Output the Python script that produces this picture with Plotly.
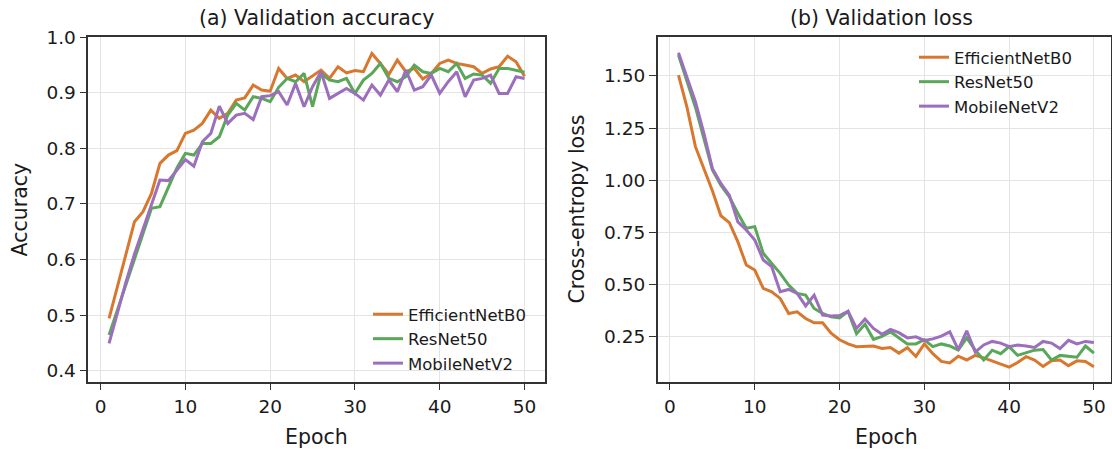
import plotly.graph_objects as go

epochs = list(range(1, 51))
models = ["EfficientNetB0", "ResNet50", "MobileNetV2"]
colors = ["#d8782e", "#5aa75a", "#9c6fbc"]

acc_eff = [0.494, 0.55, 0.61, 0.668, 0.686, 0.719, 0.773, 0.788, 0.796, 0.827,
           0.833, 0.845, 0.869, 0.854, 0.863, 0.887, 0.891, 0.914, 0.905, 0.903,
           0.944, 0.926, 0.932, 0.92, 0.93, 0.941, 0.926, 0.947, 0.936, 0.94,
           0.938, 0.971, 0.953, 0.933, 0.959, 0.938, 0.944, 0.925, 0.935, 0.953,
           0.959, 0.953, 0.95, 0.947, 0.935, 0.943, 0.947, 0.966, 0.956, 0.93]
acc_res = [0.464, 0.51, 0.555, 0.6, 0.645, 0.692, 0.695, 0.73, 0.765, 0.791,
           0.788, 0.809, 0.809, 0.821, 0.86, 0.881, 0.869, 0.893, 0.89, 0.884,
           0.91, 0.926, 0.92, 0.935, 0.875, 0.935, 0.923, 0.92, 0.926, 0.899,
           0.923, 0.935, 0.953, 0.926, 0.92, 0.929, 0.95, 0.938, 0.935, 0.944,
           0.938, 0.953, 0.926, 0.934, 0.932, 0.917, 0.944, 0.944, 0.941, 0.937]
acc_mob = [0.449, 0.505, 0.56, 0.61, 0.655, 0.7, 0.743, 0.742, 0.761, 0.78,
           0.768, 0.812, 0.827, 0.876, 0.845, 0.86, 0.863, 0.852, 0.893, 0.895,
           0.902, 0.878, 0.917, 0.875, 0.911, 0.938, 0.89, 0.899, 0.908, 0.899,
           0.887, 0.914, 0.896, 0.923, 0.902, 0.941, 0.905, 0.911, 0.932, 0.899,
           0.92, 0.938, 0.893, 0.923, 0.926, 0.932, 0.899, 0.899, 0.929, 0.926]

loss_eff = [1.504, 1.35, 1.161, 1.06, 0.95, 0.83, 0.797, 0.706, 0.594, 0.57,
            0.482, 0.466, 0.434, 0.362, 0.37, 0.338, 0.317, 0.317, 0.267, 0.236,
            0.216, 0.203, 0.206, 0.206, 0.194, 0.199, 0.172, 0.198, 0.156, 0.216,
            0.169, 0.132, 0.125, 0.157, 0.139, 0.161, 0.149, 0.135, 0.118, 0.105,
            0.127, 0.155, 0.139, 0.108, 0.135, 0.139, 0.112, 0.135, 0.132, 0.107]
loss_res = [1.60, 1.47, 1.35, 1.2, 1.049, 0.977, 0.921, 0.842, 0.77, 0.778,
            0.65, 0.602, 0.554, 0.498, 0.458, 0.45, 0.386, 0.362, 0.346, 0.34,
            0.372, 0.265, 0.31, 0.238, 0.252, 0.274, 0.245, 0.216, 0.216, 0.236,
            0.203, 0.216, 0.206, 0.186, 0.245, 0.186, 0.139, 0.186, 0.169, 0.203,
            0.161, 0.172, 0.186, 0.189, 0.139, 0.161, 0.155, 0.152, 0.206, 0.172]
loss_mob = [1.611, 1.49, 1.376, 1.225, 1.057, 0.985, 0.929, 0.801, 0.762, 0.714,
            0.618, 0.586, 0.466, 0.477, 0.458, 0.398, 0.45, 0.354, 0.35, 0.352,
            0.372, 0.29, 0.335, 0.29, 0.262, 0.285, 0.27, 0.245, 0.25, 0.233,
            0.24, 0.253, 0.274, 0.189, 0.279, 0.177, 0.211, 0.228, 0.22, 0.203,
            0.211, 0.206, 0.199, 0.228, 0.22, 0.194, 0.233, 0.216, 0.228, 0.223]

acc_ticks = [0.4, 0.5, 0.6, 0.7, 0.8, 0.9, 1.0]
loss_ticks = [0.25, 0.5, 0.75, 1.0, 1.25, 1.5]
epoch_ticks = [0, 10, 20, 30, 40, 50]

W, H = 1112, 450
FONT = "DejaVu Sans"
TXT = "#1a1a1a"

fig = go.Figure()
for name, col, ya in zip(models, colors, [acc_eff, acc_res, acc_mob]):
    fig.add_trace(go.Scatter(x=epochs, y=ya, mode="lines", name=name,
                             line=dict(color=col, width=3),
                             xaxis="x", yaxis="y", legend="legend"))
for name, col, ya in zip(models, colors, [loss_eff, loss_res, loss_mob]):
    fig.add_trace(go.Scatter(x=epochs, y=ya, mode="lines", name=name,
                             line=dict(color=col, width=3),
                             xaxis="x2", yaxis="y2", legend="legend2"))

ybot = (H - 381.7) / H
ytop = (H - 37.3) / H
L1, R1 = 88.3, 545.3
L2, R2 = 657.7, 1111.3

common_axis = dict(showline=True, linecolor="#333333", linewidth=1.5, mirror=True,
                   ticks="outside", ticklen=7, tickwidth=1.3, tickcolor="#333333",
                   showgrid=True, gridcolor="#e4e4e4", gridwidth=1, zeroline=False,
                   automargin=False,
                   tickfont=dict(family=FONT, size=18.5, color=TXT))

fig.update_layout(
    width=W, height=H, margin=dict(l=0, r=0, t=0, b=0, autoexpand=False),
    paper_bgcolor="white", plot_bgcolor="white",
    font=dict(family=FONT, color=TXT),
    xaxis=dict(domain=[L1 / W, R1 / W], range=[-1.45, 52.45], tickvals=epoch_ticks,
               anchor="y", **common_axis),
    yaxis=dict(domain=[ybot, ytop], range=[0.38, 1.0], tickvals=acc_ticks, tickformat=".1f",
               anchor="x", **common_axis),
    xaxis2=dict(domain=[L2 / W, R2 / W], range=[-1.45, 52.05], tickvals=epoch_ticks,
                anchor="y2", **common_axis),
    yaxis2=dict(domain=[ybot, ytop], range=[0.035, 1.685], tickvals=loss_ticks, tickformat=".2f",
                anchor="x2", **common_axis),
    legend=dict(x=368 / W, y=(H - 297) / H, xanchor="left", yanchor="top",
                bgcolor="rgba(255,255,255,0)", font=dict(family=FONT, size=16.5, color=TXT),
                itemwidth=30),
    legend2=dict(x=914 / W, y=(H - 40) / H, xanchor="left", yanchor="top",
                 bgcolor="rgba(255,255,255,0)", font=dict(family=FONT, size=16.5, color=TXT),
                 itemwidth=30),
)

def label(text, x, y, angle=0):
    fig.add_annotation(text=text, x=x / W, y=(H - y) / H, xref="paper", yref="paper",
                       showarrow=False, xanchor="center", yanchor="middle", textangle=angle,
                       font=dict(family=FONT, size=20.5, color=TXT))

label("(a) Validation accuracy", (L1 + R1) / 2, 18.5)
label("(b) Validation loss", 881, 18.5)
label("Epoch", (L1 + R1) / 2, 437)
label("Epoch", 886, 437)
label("Accuracy", 20, (37.3 + 381.7) / 2, -90)
label("Cross-entropy loss", 577, (37.3 + 381.7) / 2, -90)

fig.write_html("out.html")
